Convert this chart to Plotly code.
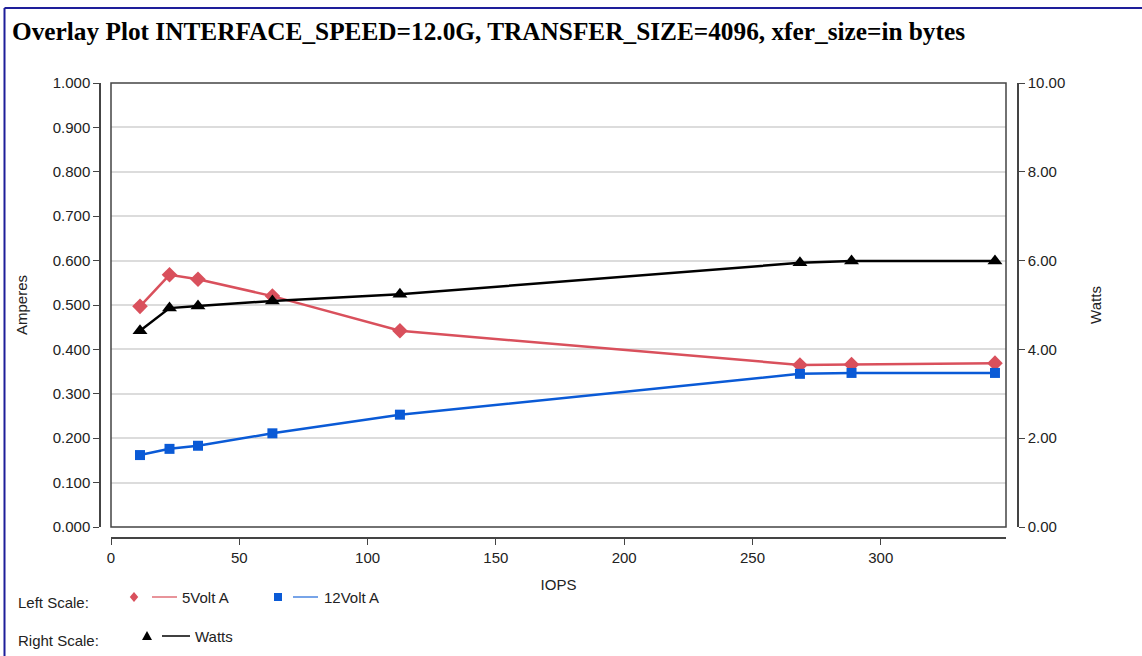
import plotly.graph_objects as go

# ---- data ----
iops = [11.3, 22.8, 33.9, 62.9, 112.6, 268.5, 288.6, 344.5]
volt5_a = [0.497, 0.568, 0.558, 0.520, 0.442, 0.365, 0.366, 0.369]
volt12_a = [0.162, 0.176, 0.183, 0.211, 0.253, 0.345, 0.347, 0.347]
watts = [4.42, 4.93, 4.98, 5.09, 5.24, 5.95, 5.99, 5.99]

x_ticks = [0, 50, 100, 150, 200, 250, 300]
left_ticks = [0.0, 0.1, 0.2, 0.3, 0.4, 0.5, 0.6, 0.7, 0.8, 0.9, 1.0]
right_ticks = [0, 2, 4, 6, 8, 10]

title_text = "Overlay Plot INTERFACE_SPEED=12.0G, TRANSFER_SIZE=4096, xfer_size=in bytes"

RED = "#d9505c"
RED_L = "#e07078"
BLUE = "#0a5ad6"
BLUE_L = "#4a86e0"
BLACK = "#000000"
AX = "#444444"
TXT = "#222222"
FONT = "Liberation Sans, Arial, sans-serif"

W, H = 1142, 656
ML, MR, MT, MB = 80, 100, 83, 100
PW = W - ML - MR
PH = H - MT - MB


def px(x):
    return (x - ML) / PW


def py(y):
    return (H - MB - y) / PH


fig = go.Figure()
fig.add_trace(go.Scatter(x=iops, y=volt5_a, name="5Volt A", mode="lines+markers",
                         line=dict(color=RED, width=2.5),
                         marker=dict(symbol="diamond", size=12, color=RED),
                         yaxis="y"))
fig.add_trace(go.Scatter(x=iops, y=volt12_a, name="12Volt A", mode="lines+markers",
                         line=dict(color=BLUE, width=2.5),
                         marker=dict(symbol="square", size=10, color=BLUE),
                         yaxis="y"))
fig.add_trace(go.Scatter(x=iops, y=watts, name="Watts", mode="lines+markers",
                         line=dict(color=BLACK, width=2.5),
                         marker=dict(symbol="triangle-up", size=13, color=BLACK),
                         yaxis="y2"))

tickfont = dict(family=FONT, size=15, color=TXT)

fig.update_layout(
    width=W, height=H,
    margin=dict(l=ML, r=MR, t=MT, b=MB),
    paper_bgcolor="white", plot_bgcolor="white",
    showlegend=False,
    title=dict(text="<b>" + title_text + "</b>", x=12 / W, xanchor="left",
               y=1 - 31 / H, yanchor="middle", xref="container", yref="container",
               font=dict(family="Liberation Serif, Times New Roman, serif", size=25.3, color="black")),
    xaxis=dict(domain=[px(111), px(1006)], range=[0, 348.8], anchor="free", position=py(538),
               tickvals=x_ticks, ticks="outside", ticklen=6, tickcolor=AX,
               showline=True, linecolor=AX, linewidth=1.5, showgrid=False, zeroline=False,
               tickfont=tickfont,
               title=dict(text="IOPS", font=dict(family=FONT, size=15, color=TXT), standoff=14)),
    yaxis=dict(domain=[py(527), 1], range=[0, 1], anchor="free", position=px(100),
               tickvals=left_ticks, tickformat=".3f", ticks="outside", ticklen=6, tickcolor=AX,
               showline=True, linecolor=AX, linewidth=1.5,
               showgrid=True, gridcolor="#dcdcdc", gridwidth=1.5, zeroline=False,
               tickfont=tickfont,
               title=dict(text="Amperes", font=dict(family=FONT, size=15, color=TXT), standoff=20)),
    yaxis2=dict(range=[0, 10], overlaying="y", side="right", anchor="free", position=px(1018),
                tickvals=right_ticks, tickformat=".2f", ticks="outside", ticklen=6, tickcolor=AX,
                showline=True, linecolor=AX, linewidth=1.5, showgrid=False, zeroline=False,
                tickfont=tickfont,
                title=dict(text="Watts", font=dict(family=FONT, size=15, color=TXT), standoff=25)),
)

shapes = []
# plot frame
shapes.append(dict(type="rect", xref="x domain", yref="y domain", x0=0, x1=1, y0=0, y1=1,
                   line=dict(color=AX, width=1.5), layer="above"))
# page border (top and left)
shapes.append(dict(type="line", xref="paper", yref="paper", x0=px(4.5), x1=px(W + 5),
                   y0=py(8), y1=py(8), line=dict(color="#1e1e9a", width=2)))
shapes.append(dict(type="line", xref="paper", yref="paper", x0=px(4.5), x1=px(4.5),
                   y0=py(8), y1=py(H + 5), line=dict(color="#1e1e9a", width=2)))


def diamond(cx, cy, r, color):
    return dict(type="path", xref="paper", yref="paper",
                path=f"M {px(cx)},{py(cy - r)} L {px(cx + r * 0.85)},{py(cy)} L {px(cx)},{py(cy + r)} L {px(cx - r * 0.85)},{py(cy)} Z",
                fillcolor=color, line=dict(width=0))


def square(cx, cy, r, color):
    return dict(type="rect", xref="paper", yref="paper", x0=px(cx - r), x1=px(cx + r),
                y0=py(cy + r), y1=py(cy - r), fillcolor=color, line=dict(width=0))


def triangle(cx, cy, r, color):
    return dict(type="path", xref="paper", yref="paper",
                path=f"M {px(cx)},{py(cy - r)} L {px(cx + r)},{py(cy + r * 0.8)} L {px(cx - r)},{py(cy + r * 0.8)} Z",
                fillcolor=color, line=dict(width=0))


def hline(x0, x1, y, color):
    return dict(type="line", xref="paper", yref="paper", x0=px(x0), x1=px(x1), y0=py(y), y1=py(y),
                line=dict(color=color, width=1.5))


shapes += [
    diamond(134, 597, 5, RED), hline(152, 177, 597, RED_L),
    square(278, 597, 4, BLUE), hline(293, 318, 597, BLUE_L),
    triangle(147, 636, 5, BLACK), hline(162, 190, 636, BLACK),
]
fig.update_layout(shapes=shapes)

legfont = dict(family=FONT, size=15, color=TXT)
ann = [
    ("Left Scale:", 16, 602), ("5Volt A", 180, 597), ("12Volt A", 322, 597),
    ("Right Scale:", 16, 640), ("Watts", 193, 636),
]
fig.update_layout(annotations=[
    dict(text=t, x=px(x), y=py(y), xref="paper", yref="paper", xanchor="left", yanchor="middle",
         showarrow=False, font=legfont) for t, x, y in ann
])

fig.write_html("out.html", config={"displayModeBar": False},
               post_script="document.body.style.margin='0';document.body.style.overflow='hidden';")
